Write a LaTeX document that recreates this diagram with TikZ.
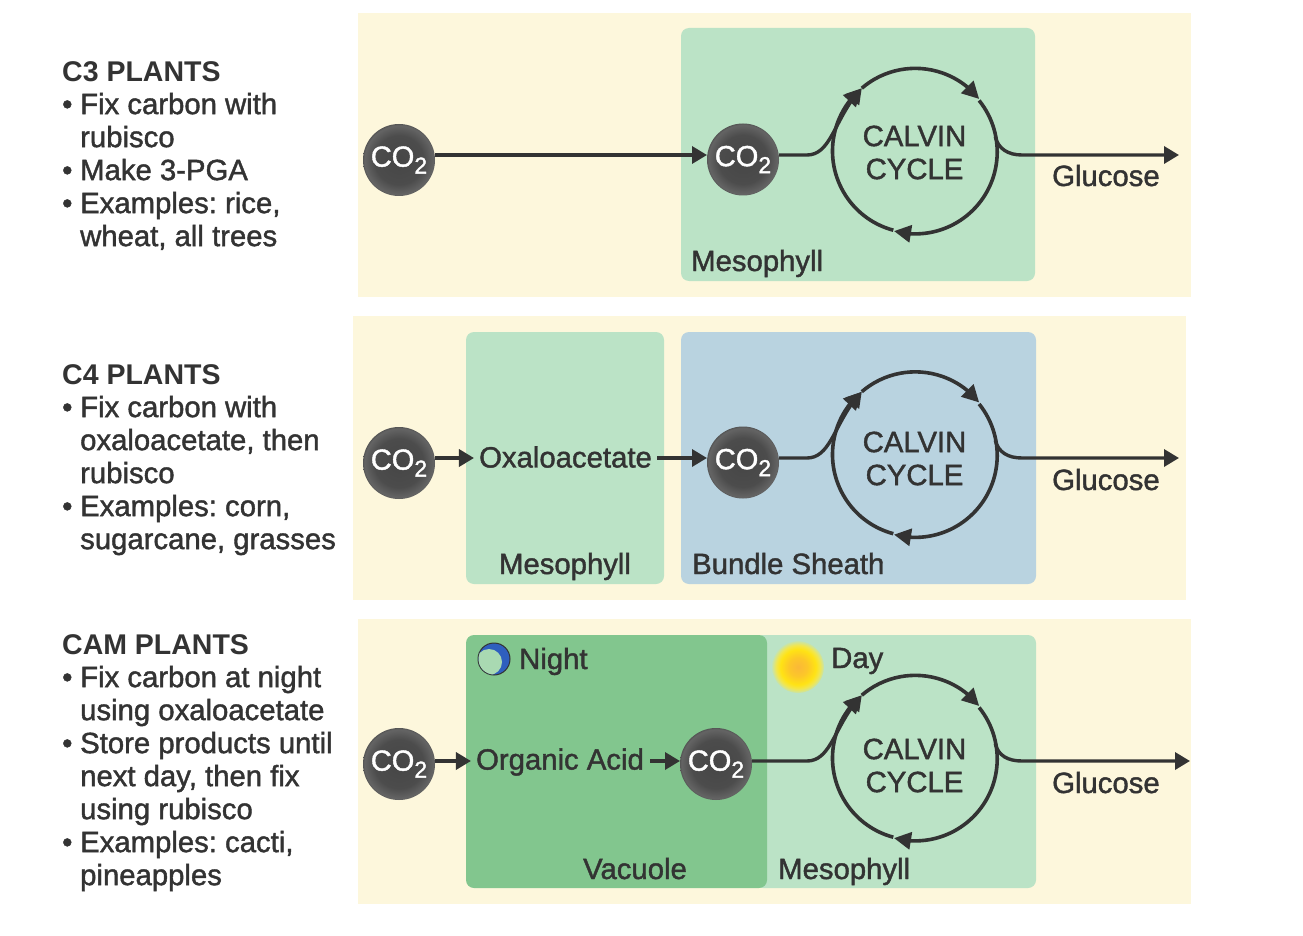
\documentclass[tikz,border=0pt]{standalone}
\usepackage{fontspec}
\setmainfont{Liberation Sans}
\newfontfamily\medfont[FakeBold=1.4]{Liberation Sans}
\newfontfamily\boldfont{Liberation Sans Bold}
\usetikzlibrary{arrows.meta,shadings,bending}
\frenchspacing
\definecolor{ink}{HTML}{333333}
\definecolor{panel}{HTML}{FDF7DC}
\definecolor{meso}{HTML}{BBE3C6}
\definecolor{sheath}{HTML}{B9D3E0}
\definecolor{vacuole}{HTML}{82C68E}
\definecolor{moonblue}{HTML}{2F5FBE}
\definecolor{moonlight}{HTML}{A9D9B2}
\definecolor{gasa}{HTML}{464646}
\definecolor{gasb}{HTML}{4C4C4C}
\definecolor{gasc}{HTML}{646464}
\definecolor{gasd}{HTML}{3E3E3E}
\definecolor{suna}{HTML}{FAB838}
\definecolor{sunb}{HTML}{FCC729}
\definecolor{sunc}{HTML}{FFE314}
\definecolor{sund}{HTML}{F2E64D}
\pgfdeclareradialshading{gasshade}{\pgfpointorigin}{
  color(0bp)=(gasa); color(17bp)=(gasb); color(24bp)=(gasc); color(27bp)=(gasd); color(50bp)=(gasd)}
\pgfdeclareradialshading{sunshade}{\pgfpointorigin}{
  color(0bp)=(suna); color(9bp)=(sunb); color(17bp)=(sunc); color(21bp)=(sund); color(26bp)=(meso); color(50bp)=(meso)}
\tikzset{
  x=1pt,y=-1pt,
  panelbox/.style={fill=panel},
  region/.style={rounded corners=8pt},
  flow/.style={draw=ink,line width=3.4pt,-{Triangle[length=15pt,width=17pt]}},
  cycarc/.style={draw=ink,line width=3.6pt,-{Triangle[length=17pt,width=17pt,flex=1]}},
  label/.style={font=\medfont\fontsize{29.3}{33}\selectfont,text=ink,inner sep=0pt},
  cycleshape/.style={circle,minimum size=164pt,inner sep=0pt,outer sep=0pt},
  cyclelabel/.style={align=center,inner sep=0pt,font=\medfont\fontsize{29.3}{33}\selectfont,text=ink},
  gas/.style={circle,minimum size=72pt,inner sep=0pt,outer sep=0pt,shading=gasshade,text=white,font=\medfont\fontsize{29}{29}\selectfont},
  listtext/.style={font=\medfont\fontsize{29.3}{33}\selectfont,text=ink,align=left,anchor=north west,inner sep=0pt}
}
\newcommand{\cotwo}{CO\raisebox{-7pt}{\fontsize{23}{23}\selectfont 2}}
\newcommand{\bul}{\makebox[18pt][l]{•}}
\newcommand{\ind}{\hspace*{18pt}}
\newcommand{\head}[1]{{\boldfont\fontsize{28.5}{33}\selectfont #1}}
% id, circle y, source node, line y, arrow end x, glucose base y, text y
\newcommand{\calvinrow}[7]{%
  \node[cycleshape] (cyc#1) at (914.5,#2) {};
  \node[cyclelabel] (cyctext#1) at (914.5,#7) {CALVIN\\CYCLE};
  \coordinate (bendin#1) at (807,#4);
  \coordinate (bendout#1) at (1022,#4);
  \coordinate (end#1) at (#5,#4);
  \draw[flow] (#3.east |- bendin#1) -- (bendin#1) .. controls +(25,0) and +(-27,28) .. (cyc#1.130.7);
  \draw[cycarc] (cyc#1.130.7) arc[start angle=130.7,end angle=38.8,radius=82pt];
  \draw[cycarc] (cyc#1.38.8) arc[start angle=38.8,end angle=-105,radius=82pt];
  \draw[cycarc] (cyc#1.255) arc[start angle=-105,end angle=-229.3,radius=82pt];
  \draw[flow] (cyc#1.10) .. controls +(3,12) and +(-14,0) .. (bendout#1) -- (end#1);
  \node[label,anchor=base west] (glucose#1) at (1052,#6) {Glucose};
}
\begin{document}
\begin{tikzpicture}
\useasboundingbox (0,0) rectangle (1303,936);
\fill[white] (0,0) rectangle (1303,936);
% panels
\fill[panelbox] (358,13) rectangle (1191,297);
\fill[panelbox] (353,316) rectangle (1186,600);
\fill[panelbox] (358,619) rectangle (1191,904);
\fill[meso,region] (681,28) rectangle (1035,281);
\fill[meso,region] (466,332) rectangle (664,584);
\fill[sheath,region] (681,332) rectangle (1036,584);
\fill[meso,region] (755,635) rectangle (1036,888);
\fill[vacuole,region] (466,635) rectangle (767,888);
% left column
\node[listtext] (c3text) at (62,61) {\head{C3 PLANTS}\\\bul Fix carbon with\\\ind rubisco\\\bul Make 3-PGA\\\bul Examples: rice,\\\ind wheat, all trees};
\node[listtext] (c4text) at (62,364) {\head{C4 PLANTS}\\\bul Fix carbon with\\\ind oxaloacetate, then\\\ind rubisco\\\bul Examples: corn,\\\ind sugarcane, grasses};
\node[listtext] (camtext) at (62,634) {\head{CAM PLANTS}\\\bul Fix carbon at night\\\ind using oxaloacetate\\\bul Store products until\\\ind next day, then fix\\\ind using rubisco\\\bul Examples: cacti,\\\ind pineapples};
% row 1
\node[gas] (a1) at (399,160) {\cotwo};
\node[gas] (a2) at (743,159.5) {\cotwo};
\calvinrow{1}{151}{a2}{155}{1179}{186}{152.5}
\draw[flow] (a1.east |- end1) -- (a2.west |- end1);
\node[label,anchor=base west] (m1) at (691,271) {Mesophyll};
% row 2
\node[gas] (b1) at (399,463) {\cotwo};
\node[label] (oxa) at (565.5,457) {Oxaloacetate};
\node[gas] (b2) at (743,462.5) {\cotwo};
\calvinrow{2}{454.5}{b2}{458}{1179}{490}{458.5}
\draw[flow] (b1.east |- end2) -- ([xshift=-5pt]oxa.west |- end2);
\draw[flow] ([xshift=5pt]oxa.east |- end2) -- (b2.west |- end2);
\node[label,anchor=base] (m2) at (565,574) {Mesophyll};
\node[label,anchor=base west] (bs) at (692,574) {Bundle Sheath};
% row 3
\node[gas] (d1) at (399,764) {\cotwo};
\node[label] (org) at (560,762) {Organic Acid};
\node[gas] (d2) at (716,764) {\cotwo};
\calvinrow{3}{758}{d2}{761}{1190}{793}{765.5}
\draw[flow] (d1.east |- end3) -- ([xshift=-5pt]org.west |- end3);
\draw[flow] ([xshift=6pt]org.east |- end3) -- (d2.west |- end3);
\node[label,anchor=base] (vac) at (635,879) {Vacuole};
\node[label,anchor=base west] (m3) at (778,879) {Mesophyll};
% moon
\node[circle,minimum size=32pt,inner sep=0pt,draw=ink,line width=1pt,fill=moonblue] (moon) at (494,659) {};
\begin{scope}
  \clip (moon.center) circle[radius=15.5pt];
  \fill[moonlight] ([xshift=-5pt,yshift=-3pt]moon.center) circle[radius=13pt];
\end{scope}
\node[label,anchor=base west] (night) at (519,669) {Night};
% sun
\node[circle,minimum size=52pt,inner sep=0pt,shading=sunshade] (sun) at (798,667) {};
\node[label,anchor=base west] (day) at (831,668) {Day};
\end{tikzpicture}
\end{document}
